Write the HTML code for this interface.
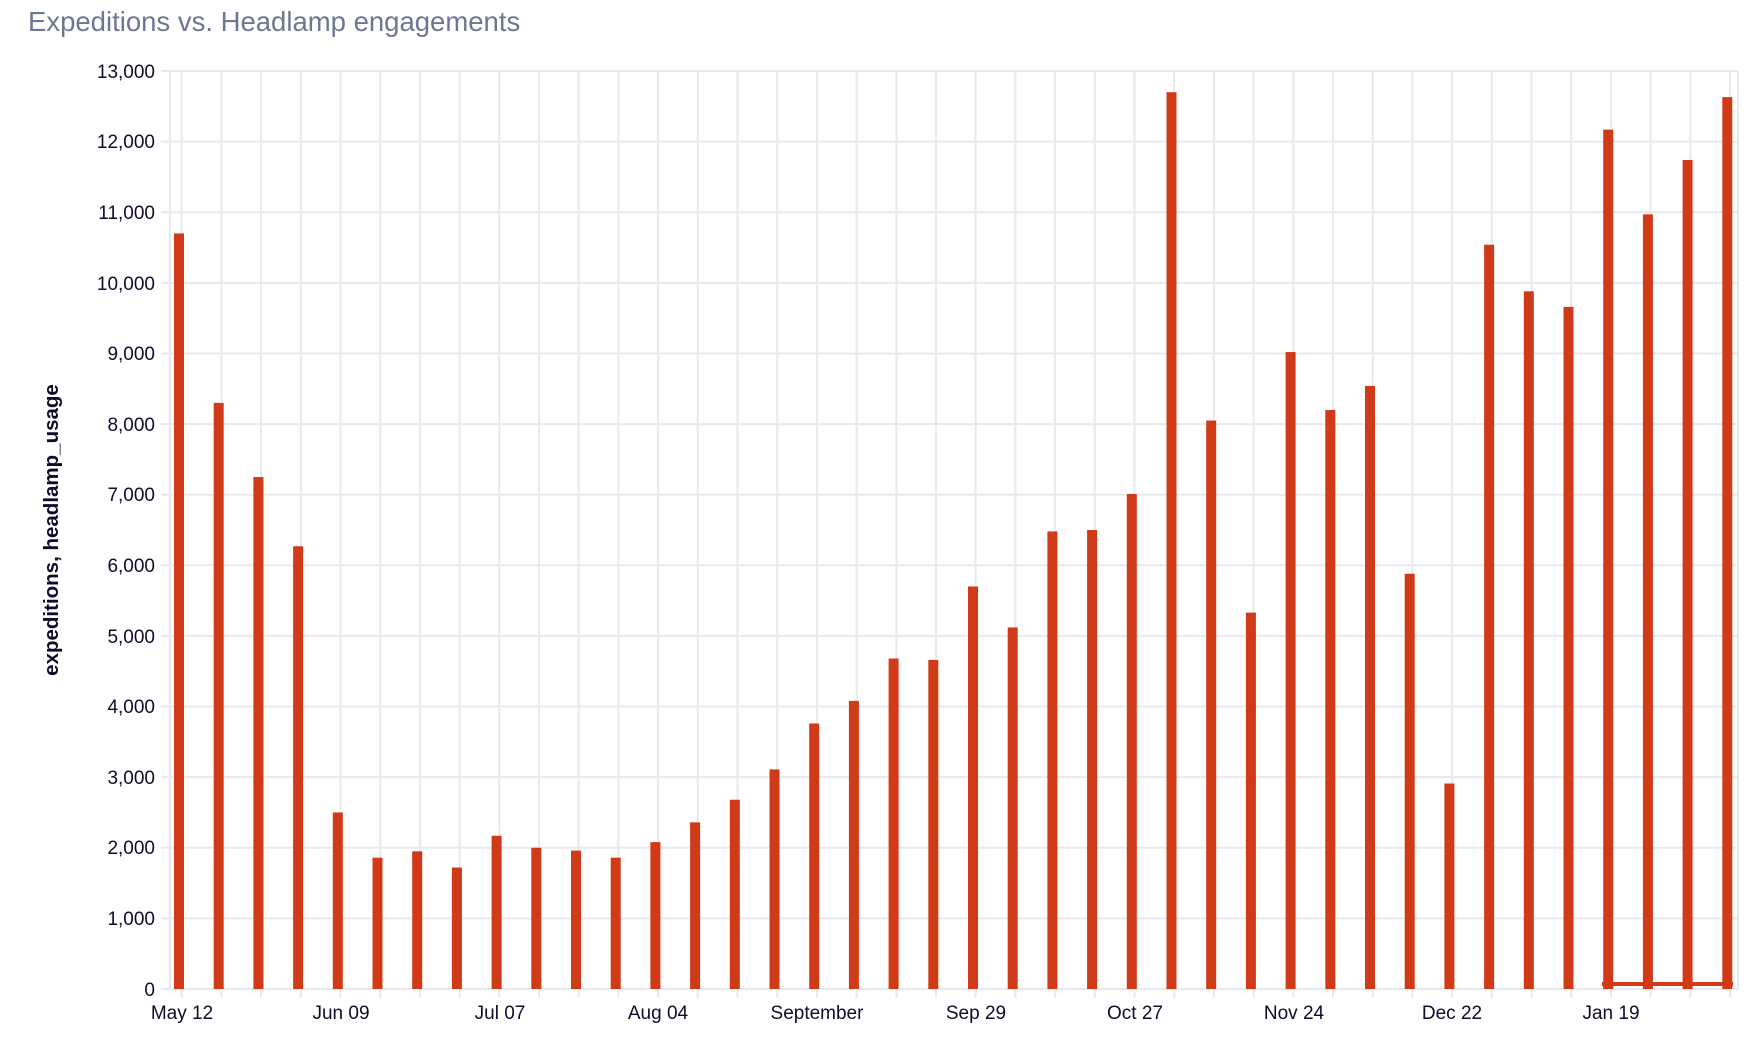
<!DOCTYPE html>
<html><head><meta charset="utf-8">
<style>
html,body{margin:0;padding:0;background:#fff;width:1760px;height:1044px;overflow:hidden}
svg{display:block}
text{font-family:"Liberation Sans",sans-serif}
</style></head>
<body>
<svg id="c" width="1760" height="1044" viewBox="0 0 1760 1044" xmlns="http://www.w3.org/2000/svg">
<text x="28" y="31" font-size="27.5" fill="#6b7793">Expeditions vs. Headlamp engagements</text>
<g id="grid"></g>
<g id="bars"></g>
<rect x="1602" y="982" width="131" height="4" fill="#d13a17"/>
<g font-size="19" fill="#0d0d2b" text-anchor="end">
<text x="155" y="78">13,000</text>
<text x="155" y="148">12,000</text>
<text x="155" y="219">11,000</text>
<text x="155" y="290">10,000</text>
<text x="155" y="360">9,000</text>
<text x="155" y="431">8,000</text>
<text x="155" y="501">7,000</text>
<text x="155" y="572">6,000</text>
<text x="155" y="643">5,000</text>
<text x="155" y="713">4,000</text>
<text x="155" y="784">3,000</text>
<text x="155" y="854">2,000</text>
<text x="155" y="925">1,000</text>
<text x="155" y="996">0</text>
</g>
<g font-size="19" fill="#0d0d2b" text-anchor="middle">
<text x="182" y="1019">May 12</text>
<text x="341" y="1019">Jun 09</text>
<text x="500" y="1019">Jul 07</text>
<text x="658" y="1019">Aug 04</text>
<text x="817" y="1019">September</text>
<text x="976" y="1019">Sep 29</text>
<text x="1135" y="1019">Oct 27</text>
<text x="1294" y="1019">Nov 24</text>
<text x="1452" y="1019">Dec 22</text>
<text x="1611" y="1019">Jan 19</text>
</g>
<text transform="translate(58,530) rotate(-90)" font-size="20.5" font-weight="bold" fill="#0d0d2b" text-anchor="middle">expeditions, headlamp_usage</text>
</svg>
<script>
(function(){
var NS="http://www.w3.org/2000/svg";
var g=document.getElementById("grid"),b=document.getElementById("bars");
function el(p,t,a){var e=document.createElementNS(NS,t);for(var k in a)e.setAttribute(k,a[k]);p.appendChild(e);}
var y0=989,s=918/13000;
for(var i=0;i<=13;i++){var y=y0-i*1000*s;el(g,"line",{x1:161,x2:1738,y1:y,y2:y,stroke:"#e8e8ef","stroke-width":2});}
el(g,"line",{x1:170,x2:170,y1:71,y2:989,stroke:"#e8e8ef","stroke-width":2});
el(g,"line",{x1:1738,x2:1738,y1:71,y2:989,stroke:"#e8e8ef","stroke-width":2});
for(var i=0;i<40;i++){var x=181.7+i*39.7;el(g,"line",{x1:x,x2:x,y1:71,y2:998,stroke:"#e8e8ef","stroke-width":2});}
var v=[10700,8300,7250,6270,2500,1860,1950,1720,2170,2000,1960,1860,2080,2360,2680,3110,3760,4080,4680,4660,5700,5120,6480,6500,7010,12700,8050,5330,9020,8200,8540,5880,2910,10540,9880,9660,12170,10970,11740,12630];
for(var i=0;i<40;i++){var cx=179+i*39.7,h=v[i]*s;el(b,"rect",{x:cx-5,y:y0-h,width:10,height:h,fill:"#d13a17"});}
})();
</script>
</body></html>
